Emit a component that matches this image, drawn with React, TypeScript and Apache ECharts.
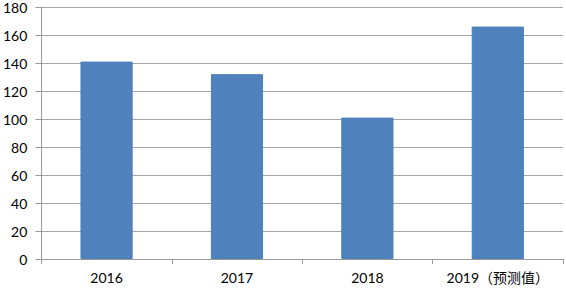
import React, { useEffect, useRef } from "react";
import * as echarts from "echarts";

const categories = ["2016", "2017", "2018", "2019（预测值）"];
const values = [141, 132, 101, 166];
const yMin = 0;
const yMax = 180;
const yInterval = 20;

export default function App() {
  const ref = useRef<HTMLDivElement>(null);
  useEffect(() => {
    if (!ref.current) return;
    const chart = echarts.init(ref.current, undefined, { renderer: "svg" });
    const font = "Lato, 'Noto Sans CJK SC', sans-serif";
    chart.setOption({
      animation: false,
      backgroundColor: "#ffffff",
      grid: { left: 41, right: 3, top: 7, bottom: 30, containLabel: false },
      xAxis: {
        type: "category",
        data: categories,
        boundaryGap: true,
        axisLine: { show: true, lineStyle: { color: "#9a9a9a", width: 1 } },
        axisTick: { show: true, length: 5, interval: 0, alignWithLabel: false, lineStyle: { color: "#9a9a9a" } },
        axisLabel: { color: "#000", fontSize: 14, fontFamily: font, margin: 11, interval: 0, hideOverlap: false },
      },
      yAxis: {
        type: "value",
        min: yMin,
        max: yMax,
        interval: yInterval,
        axisLine: { show: true, lineStyle: { color: "#9a9a9a", width: 1 } },
        axisTick: { show: true, length: 6, lineStyle: { color: "#9a9a9a" } },
        splitLine: { show: true, lineStyle: { color: "#a6a6a6", width: 1 } },
        axisLabel: { color: "#000", fontSize: 14, fontFamily: font, margin: 14 },
      },
      series: [
        {
          type: "bar",
          data: values,
          barWidth: "40%",
          itemStyle: { color: "#4f81bd", borderColor: "#4a7ebb", borderWidth: 1 },
        },
      ],
    });
    return () => chart.dispose();
  }, []);
  return (
    <div
      ref={ref}
      style={{ position: "fixed", left: 0, top: 0, width: 566, height: 289, background: "#fff" }}
    />
  );
}
